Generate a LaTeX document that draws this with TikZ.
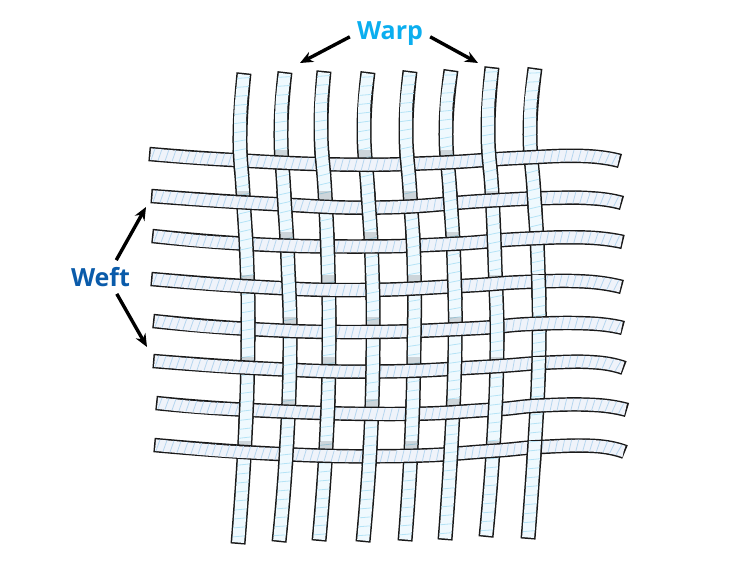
\documentclass[tikz,border=0pt]{standalone}
\usepackage{fontspec}
\setmainfont{Open Sans}
\usetikzlibrary{arrows.meta,
                decorations.markings}

\definecolor{warpfill}{HTML}{EFF9FE}
\definecolor{warphatch}{HTML}{B4E3F6}
\definecolor{weftfill}{HTML}{EFF3FA}
\definecolor{wefthatch}{HTML}{B6D6EF}
\definecolor{warptext}{HTML}{0BAEEF}
\definecolor{wefttext}{HTML}{0A5BAA}

\tikzset{
    warpedge/.style = {draw=black!90, line width=15pt},
    warpface/.style = {draw=warpfill, line width=12pt, shorten >=1.5pt, shorten <=1.5pt,
        decoration={markings, mark=between positions 5pt and -3pt step 9pt with
            {\draw[warphatch, line width=0.8pt, shorten >=0pt, shorten <=0pt] (1pt,-6pt) -- (-1pt,6pt);}},
        postaction={decorate}},
    weftedge/.style = {draw=black!90, line width=14.5pt},
    weftface/.style = {draw=weftfill, line width=11.6pt, shorten >=1.5pt, shorten <=1.5pt,
        decoration={markings, mark=between positions 4pt and -3pt step 7pt with
            {\draw[wefthatch, line width=0.8pt, shorten >=0pt, shorten <=0pt] (-1.5pt,-5.8pt) -- (1.5pt,5.8pt);}},
        postaction={decorate}},
    warpshade/.style = {draw=black, line width=12pt, opacity=0.14},
    wordlabel/.style = {font=\fontsize{25}{25}\selectfont\bfseries, inner sep=7pt},
    pointer/.style = {draw=black, line width=3.4pt, -{Stealth[length=13pt, width=11pt]}}
}

\newcommand{\warpstrip}[1]{
    \draw[warpedge] plot[smooth, tension=0.8] coordinates {#1};
    \draw[warpface] plot[smooth, tension=0.8] coordinates {#1};
}
\newcommand{\weftstrip}[1]{
    \draw[weftedge] plot[smooth, tension=0.8] coordinates {#1};
    \draw[weftface] plot[smooth, tension=0.8] coordinates {#1};
}

\def\warplist{
    1/{(244,73) (240,135) (243,193) (247,265) (248,340) (245,440) (238,544)},
    2/{(285,72) (281,130) (284,193) (288,265) (290,350) (286,457) (279,542)},
    3/{(324,71) (321,130) (325,193) (328,265) (329,350) (326,447) (319,541)},
    4/{(368,72) (364,130) (368,193) (372,265) (373,350) (370,450) (363,542)},
    5/{(410,71) (406,130) (410,193) (414,265) (414,350) (411,450) (405,541)},
    6/{(451,70) (446,130) (450,193) (454,265) (455,350) (451,450) (445,540)},
    7/{(492,67) (488,130) (492,193) (495,265) (497,350) (493,450) (486,537)},
    8/{(535,68) (530,130) (534,193) (538,265) (539,350) (535,440) (528,539)}}
\def\weftlist{
    1/{(149,154) (233,160) (340,164.5) (433,163) (517,158) (583,156) (620,161)},
    2/{(151,196) (273,204) (380,207.5) (483,201) (550,198) (595,198.5) (622,203)},
    3/{(152,236) (250,244) (357,246.5) (450,244) (520,239) (585,237.5) (623,242)},
    4/{(151,279) (260,287) (360,290) (460,286) (525,282) (585,281.5) (622,287)},
    5/{(153,321) (250,329) (360,332) (470,328.5) (530,324) (590,323.5) (623,328)},
    6/{(153,361) (273,369) (380,371.5) (483,367) (550,362.5) (597,362.5) (624,368)},
    7/{(156,403) (250,410) (390,414) (487,410) (540,405.5) (595,405) (627,410)},
    8/{(154,445) (280,454) (400,456) (490,451) (540,447) (595,446) (625,452)}}
\def\rowlist{1/162, 2/203, 3/244, 4/287, 5/329, 6/369, 7/411, 8/453}

\begin{document}
\begin{tikzpicture}[x=1pt, y=-1pt]
\useasboundingbox (0,0) rectangle (738,570);

\foreach \n/\pts in \warplist {
    \expandafter\warpstrip\expandafter{\pts}
    \foreach \m/\y in \rowlist {
        \pgfmathtruncatemacro{\side}{mod(\n+\m,2)}
        \ifnum\side=1
            \begin{scope}
                \clip (0,\y-12) rectangle (738,\y);
                \edef\tmp{\noexpand\draw[warpshade] plot[smooth, tension=0.8] coordinates {\pts};}\tmp
            \end{scope}
        \fi
    }
}

\foreach \m/\pts in \weftlist {
    \expandafter\weftstrip\expandafter{\pts}
}

\foreach \n/\pts in \warplist {
    \foreach \m/\y in \rowlist {
        \pgfmathtruncatemacro{\side}{mod(\n+\m,2)}
        \ifnum\side=0
            \begin{scope}
                \clip (0,\y-12) rectangle (738,\y+12);
                \expandafter\warpstrip\expandafter{\pts}
            \end{scope}
        \fi
    }
}

\node (warp) [wordlabel, text=warptext] at (390,34) {Warp};
\node (weft) [wordlabel, text=wefttext] at (100.5,277) {Weft};
\coordinate (warpleft) at (300,63);
\coordinate (warpright) at (478,63);
\coordinate (weftup) at (146,207);
\coordinate (weftdown) at (147,347);
\draw[pointer] (warp.184) -- (warpleft);
\draw[pointer] (warp.-4) -- (warpright);
\draw[pointer] (weft.47) -- (weftup);
\draw[pointer] (weft.-46) -- (weftdown);
\end{tikzpicture}
\end{document}
